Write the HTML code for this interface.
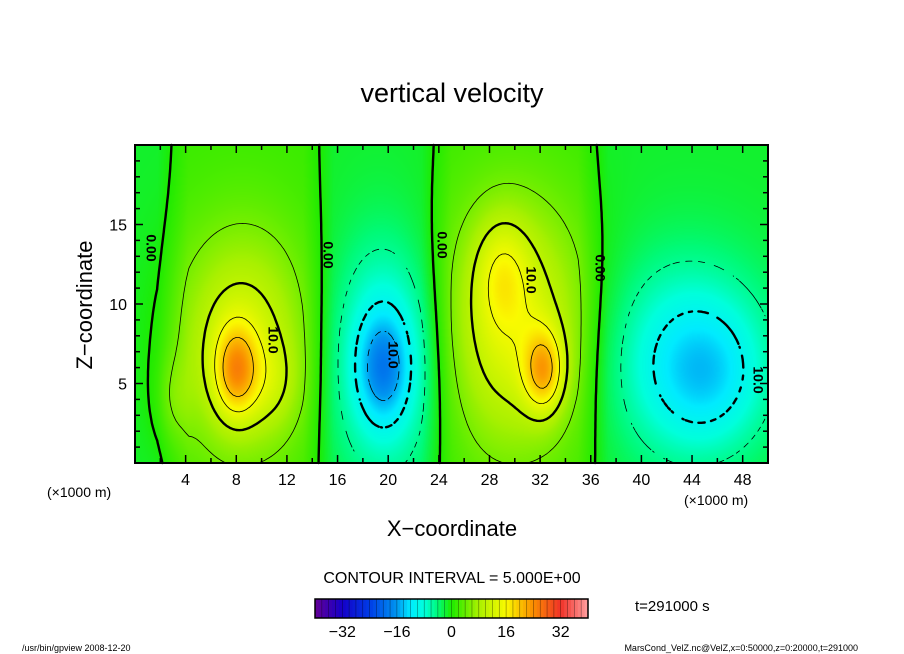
<!DOCTYPE html>
<html><head><meta charset="utf-8"><style>
body{margin:0;background:#fff;width:904px;height:654px;overflow:hidden;font-family:"Liberation Sans",sans-serif}
#wrap{position:relative;width:904px;height:654px}
canvas{position:absolute;left:135px;top:145px}
svg{position:absolute;left:0;top:0}
text{font-family:"Liberation Sans",sans-serif;fill:#000}
</style></head><body>
<div id="wrap">
<canvas id="fld" width="633" height="318"></canvas>
<svg id="svg" width="904" height="654"></svg>
</div>
<script>
// data (x in 1000 m, z in 1000 m, amplitude in m/s)
const blobX=[8,8.5,3,19.6,19.8,32.3,30,29,43.5,45.5,11];
const blobZ=[5.8,7.5,4,6,6.5,5.8,8.5,12,6.5,5.5,5];
const blobA=[13,11,3,-8,-10,13,12,6,-8.5,-5,3];
const blobSX=[1.2,3.6,1,1.3,3,1.1,4,1.5,4.5,3,1.5];
const blobSZ=[2,5,2,2.2,5,1.8,5.5,2.5,4.5,3,2];
const zeroX=[3,14.5,23.8,36.2];
const xTicks=[4,8,12,16,20,24,28,32,36,40,44,48];
const zTicks=[5,10,15];
const levels=[-20,-15,-10,-5,0,5,10,15,20];
const cbTicks=[-32,-16,0,16,32];

const PL=135,PT=145,PW=633,PH=318,XMAX=50,ZMAX=20;
const sx=x=>PL+x/XMAX*PW, sz=z=>PT+PH-z/ZMAX*PH;
function bg(x){let s=-1,d=1e9;for(const c of zeroX){if(x>c)s=-s;d=Math.min(d,Math.abs(x-c));}return s*1.5*Math.min(1,d/1.2);}
function w(x,z){let v=bg(x);for(let i=0;i<blobX.length;i++){const dx=(x-blobX[i])/blobSX[i],dz=(z-blobZ[i])/blobSZ[i];v+=blobA[i]*Math.exp(-0.5*(dx*dx+dz*dz));}return v;}
const stops=[[-40,100,0,150],[-32,20,0,200],[-24,0,60,230],[-16,0,150,240],[-12,0,235,255],[-8,0,255,220],[-4,0,250,120],[0,30,235,0],[8,170,240,0],[16,250,250,0],[24,250,140,0],[32,240,50,40],[40,255,160,160]];
function col(v){if(v<=stops[0][0])return stops[0].slice(1);for(let i=1;i<stops.length;i++){if(v<=stops[i][0]){const a=stops[i-1],b=stops[i],t=(v-a[0])/(b[0]-a[0]);return [0,1,2].map(k=>a[k+1]+(b[k+1]-a[k+1])*t);}}return stops[stops.length-1].slice(1);}
const cv=document.getElementById('fld'),ctx=cv.getContext('2d'),img=ctx.createImageData(PW,PH);
for(let j=0;j<PH;j++)for(let i=0;i<PW;i++){const c=col(w((i+0.5)/PW*XMAX,(PH-j-0.5)/PH*ZMAX));const p=(j*PW+i)*4;img.data[p]=c[0];img.data[p+1]=c[1];img.data[p+2]=c[2];img.data[p+3]=255;}
ctx.putImageData(img,0,0);

const svg=document.getElementById('svg'),NS='http://www.w3.org/2000/svg';
function mk(t,a,p){const e=document.createElementNS(NS,t);for(const k in a)e.setAttribute(k,a[k]);(p||svg).appendChild(e);return e;}
// contours via marching squares
const NX=200,NZ=80;const G=[];
for(let j=0;j<=NZ;j++){G.push([]);for(let i=0;i<=NX;i++)G[j].push(w(i/NX*XMAX,j/NZ*ZMAX));}
for(const L of levels){let d='';
 for(let j=0;j<NZ;j++)for(let i=0;i<NX;i++){
  if(L<0 && Math.floor((i+j)/2)%2===1)continue;
  const c=[[i,j],[i+1,j],[i+1,j+1],[i,j+1]],v=c.map(p=>G[p[1]][p[0]]),pts=[];
  for(let k=0;k<4;k++){const a=v[k],b=v[(k+1)%4];if((a<L)!==(b<L)){const t=(L-a)/(b-a),p=c[k],q=c[(k+1)%4];pts.push([p[0]+(q[0]-p[0])*t,p[1]+(q[1]-p[1])*t]);}}
  for(let k=0;k+1<pts.length;k+=2)d+='M'+sx(pts[k][0]/NX*XMAX).toFixed(1)+' '+sz(pts[k][1]/NZ*ZMAX).toFixed(1)+'L'+sx(pts[k+1][0]/NX*XMAX).toFixed(1)+' '+sz(pts[k+1][1]/NZ*ZMAX).toFixed(1);}
 const thick=(L===0||Math.abs(L)===10);
 const e=mk('path',{d:d,fill:'none',stroke:'#000','stroke-width':thick?2.4:0.8,'stroke-linecap':'round'});
 
 
}
// contour labels
[[150,248,'0.00'],[327,255,'0.00'],[441,245,'0.00'],[599,268,'0.00'],[272,340,'10.0'],[530,280,'10.0'],[392,355,'10.0'],[757,380,'10.0']].forEach(l=>{
 const t=mk('text',{x:l[0],y:l[1],'font-size':14,'font-weight':'bold','text-anchor':'middle',transform:'rotate(90 '+l[0]+' '+l[1]+')','dominant-baseline':'middle'});t.textContent=l[2];
 
 
});
// frame & ticks
const fr=mk('rect',{x:PL,y:PT,width:PW,height:PH,fill:'none',stroke:'#000','stroke-width':2});


for(let x=2;x<XMAX;x+=2){const L=x%4===0?8:5;mk('line',{x1:sx(x),x2:sx(x),y1:PT+PH,y2:PT+PH-L,stroke:'#000','stroke-width':1.5});mk('line',{x1:sx(x),x2:sx(x),y1:PT,y2:PT+L,stroke:'#000','stroke-width':1.5});}
for(let z=1;z<ZMAX;z++){const L=z%5===0?8:5;mk('line',{x1:PL,x2:PL+L,y1:sz(z),y2:sz(z),stroke:'#000','stroke-width':1.5});mk('line',{x1:PL+PW,x2:PL+PW-L,y1:sz(z),y2:sz(z),stroke:'#000','stroke-width':1.5});}
xTicks.forEach(v=>{const t=mk('text',{x:sx(v),y:485,'font-size':16,'text-anchor':'middle'});t.textContent=v;
 
 });
zTicks.forEach(v=>{const t=mk('text',{x:127,y:sz(v)+6,'font-size':16,'text-anchor':'end'});t.textContent=v;
 
 });
// colorbar
const CB0=315,CB1=588;const cbx=v=>CB0+(v+40)/80*(CB1-CB0);
for(let v=-40;v<40;v+=1){const c=col(v+0.5);mk('rect',{x:cbx(v),y:599,width:(CB1-CB0)/80+0.5,height:19,fill:'rgb('+c.map(Math.round).join(',')+')'});}
for(let v=-40;v<40;v+=2){mk('line',{x1:cbx(v),x2:cbx(v),y1:599,y2:618,stroke:'#000','stroke-width':0.6,opacity:0.5});}
const cbf=mk('rect',{x:CB0,y:599,width:CB1-CB0,height:19,fill:'none',stroke:'#000','stroke-width':1.5});


cbTicks.forEach(v=>{const t=mk('text',{x:cbx(v),y:637,'font-size':16,'text-anchor':'middle'});t.textContent=(v<0?'\u2212'+(-v):v);
 
 });
</script>
<svg width="904" height="654" style="position:absolute;left:0;top:0;pointer-events:none">
<text x="452" y="102" font-size="27" text-anchor="middle">vertical velocity</text>
<text x="92" y="305" font-size="22" text-anchor="middle" transform="rotate(-90 92 305)">Z−coordinate</text>
<text x="452" y="536" font-size="22" text-anchor="middle">X−coordinate</text>
<text x="47" y="497" font-size="14">(×1000 m)</text>
<text x="684" y="505" font-size="14">(×1000 m)</text>
<text x="452" y="583" font-size="16" text-anchor="middle">CONTOUR INTERVAL = 5.000E+00</text>
<text x="635" y="611" font-size="15">t=291000 s</text>
<text x="22" y="651" font-size="9">/usr/bin/gpview   2008-12-20</text>
<text x="858" y="651" font-size="9" text-anchor="end">MarsCond_VelZ.nc@VelZ,x=0:50000,z=0:20000,t=291000</text>
</svg>
</body></html>
